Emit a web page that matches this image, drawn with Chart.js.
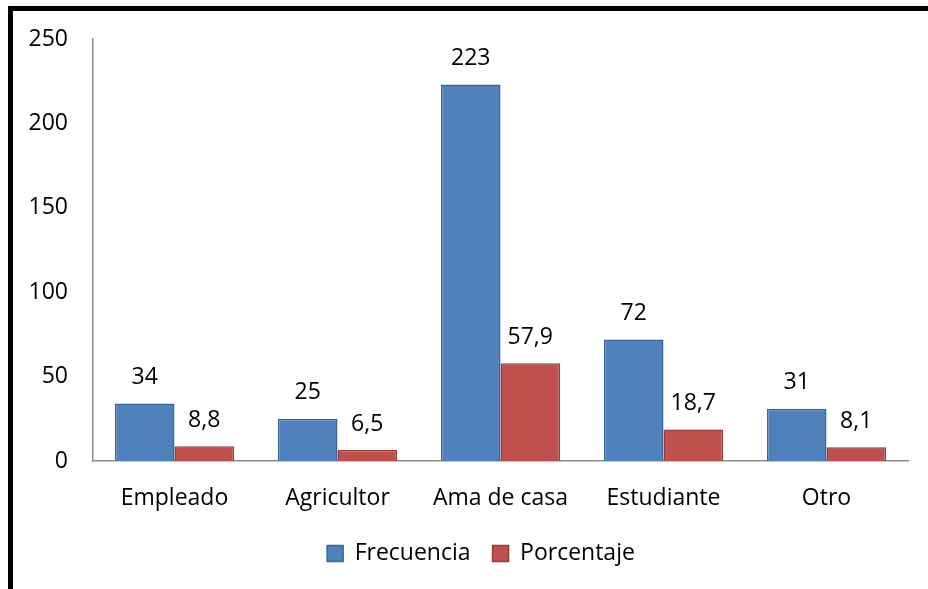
<!DOCTYPE html>
<html>
<head>
<meta charset="utf-8">
<script src="https://cdn.jsdelivr.net/npm/chart.js@4"></script>
<style>
    html, body { margin: 0; padding: 0; background: #ffffff; }
    #wrap { position: relative; width: 928px; height: 589px; }
    #chart { position: absolute; left: 0; top: 0; }
    .edge { position: absolute; background: #000000; }
</style>
</head>
<body>
<div id="wrap">
    <canvas id="chart" width="928" height="589"></canvas>
    <div class="edge" style="left:8px; top:6px; width:920px; height:5px;"></div>
    <div class="edge" style="left:8px; top:6px; width:5px; height:583px;"></div>
</div>
<script>
// Chart data
const categories = ['Empleado', 'Agricultor', 'Ama de casa', 'Estudiante', 'Otro'];
const frecuencia = [34, 25, 223, 72, 31];
const porcentaje = [8.8, 6.5, 57.9, 18.7, 8.1];
const yTicks = [0, 50, 100, 150, 200, 250];

const colors = {
    blue: '#4F81BD',
    blueBorder: '#3A6596',
    red: '#C0504D',
    redBorder: '#943B39',
    axis: '#8C8C8C',
    text: '#000000'
};

const fontFamily = "'Open Sans', sans-serif";
const fontSize = 23;

// Value labels above each bar (comma decimals)
const valueLabels = {
    id: 'valueLabels',
    afterDatasetsDraw(chart) {
        const ctx = chart.ctx;
        ctx.save();
        ctx.font = fontSize + 'px ' + fontFamily;
        ctx.fillStyle = colors.text;
        ctx.textAlign = 'center';
        ctx.textBaseline = 'middle';
        chart.data.datasets.forEach(function(ds, i) {
            const meta = chart.getDatasetMeta(i);
            meta.data.forEach(function(bar, j) {
                const txt = String(ds.data[j]).replace('.', ',');
                ctx.fillText(txt, bar.x, bar.y - 26);
            });
        });
        ctx.restore();
    }
};

// Legend sits a bit right of the canvas centre in the original
const legendShift = {
    id: 'legendShift',
    afterLayout(chart) {
        if (chart.legend) {
            chart.legend.left += 27;
            chart.legend.right += 27;
        }
    }
};

new Chart(document.getElementById('chart'), {
    type: 'bar',
    data: {
        labels: categories,
        datasets: [
            {
                label: 'Frecuencia',
                data: frecuencia,
                backgroundColor: colors.blue,
                borderColor: colors.blueBorder,
                borderWidth: 1.5
            },
            {
                label: 'Porcentaje',
                data: porcentaje,
                backgroundColor: colors.red,
                borderColor: colors.redBorder,
                borderWidth: 1.5
            }
        ]
    },
    options: {
        responsive: false,
        animation: false,
        layout: {
            padding: { left: 0, right: 20, top: 39, bottom: 14 }
        },
        datasets: {
            bar: { categoryPercentage: 0.73, barPercentage: 1.0 }
        },
        plugins: {
            tooltip: { enabled: false },
            legend: {
                position: 'bottom',
                labels: {
                    color: colors.text,
                    font: { family: fontFamily, size: fontSize },
                    boxWidth: 16,
                    boxHeight: 16,
                    padding: 22
                }
            }
        },
        scales: {
            y: {
                min: 0,
                max: 250,
                afterBuildTicks: function(scale) {
                    scale.ticks = yTicks.map(function(v) { return { value: v }; });
                },
                afterFit: function(scale) { scale.width = 93; },
                ticks: {
                    color: colors.text,
                    font: { family: fontFamily, size: fontSize },
                    padding: 25
                },
                grid: { display: false, drawTicks: false },
                border: { display: true, color: colors.axis, width: 1.5 }
            },
            x: {
                afterFit: function(scale) { scale.height = 59; },
                ticks: {
                    color: colors.text,
                    font: { family: fontFamily, size: fontSize },
                    padding: 24
                },
                grid: { display: false, drawTicks: false },
                border: { display: true, color: colors.axis, width: 1.5 }
            }
        }
    },
    plugins: [valueLabels, legendShift]
});
</script>
</body>
</html>
